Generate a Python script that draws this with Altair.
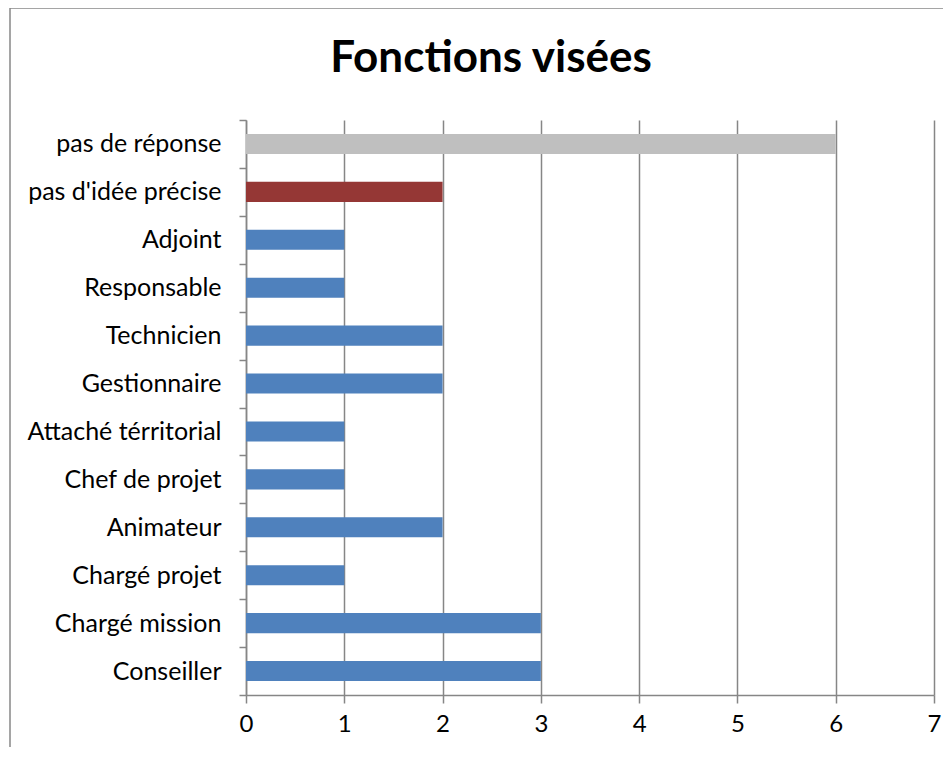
import altair as alt
import pandas as pd

categories = ["pas de réponse", "pas d'idée précise", "Adjoint", "Responsable", "Technicien",
              "Gestionnaire", "Attaché térritorial", "Chef de projet", "Animateur",
              "Chargé projet", "Chargé mission", "Conseiller"]
values = [6, 2, 1, 1, 2, 2, 1, 1, 2, 1, 3, 3]
colors = ["#BFBFBF", "#953735"] + ["#4F81BD"] * 10
x_ticks = [0, 1, 2, 3, 4, 5, 6, 7]
title_text = "Fonctions visées"

df = pd.DataFrame({"cat": categories, "val": values, "col": colors})

FONT = "Lato"
W, H = 688, 575

bars = alt.Chart(df).mark_bar(height=alt.RelativeBandSize(0.42)).encode(
    y=alt.Y("cat:N", sort=categories, title=None,
            scale=alt.Scale(paddingInner=0, paddingOuter=0),
            axis=alt.Axis(tickBand="extent", tickSize=7, labelPadding=18, labelFontSize=25,
                          labelColor="#000000", labelFont=FONT, domainColor="#868686",
                          tickColor="#868686", domainWidth=1.5, tickWidth=1.5, grid=False,
                          labelLimit=400)),
    x=alt.X("val:Q", title=None,
            scale=alt.Scale(domain=[0, 7], nice=False),
            axis=alt.Axis(values=x_ticks, tickSize=8, labelPadding=9, labelFontSize=24,
                          labelColor="#000000", labelFont=FONT, domainColor="#868686",
                          tickColor="#868686", domainWidth=1.5, tickWidth=1.5,
                          grid=True, gridColor="#868686", gridWidth=1.5,
                          labelFlush=False)),
    color=alt.Color("col:N", scale=None),
)

title = alt.Chart(pd.DataFrame({"t": [title_text]})).mark_text(
    font=FONT, fontSize=44, fontWeight="bold", color="#000000", baseline="alphabetic"
).encode(text="t:N", x=alt.value(245), y=alt.value(-48))

frame_top = alt.Chart(pd.DataFrame({"a": [0]})).mark_rule(color="#878787", strokeWidth=1.5).encode(
    x=alt.value(-236), x2=alt.value(W + 20), y=alt.value(-112))
frame_left = alt.Chart(pd.DataFrame({"a": [0]})).mark_rule(color="#878787", strokeWidth=1.5).encode(
    x=alt.value(-236), y=alt.value(-112), y2=alt.value(H + 60))

chart = alt.layer(bars, title, frame_top, frame_left).properties(
    width=W, height=H,
    autosize=alt.AutoSizeParams(type="none"),
    padding={"left": 238, "top": 112, "right": 9, "bottom": 52},
).configure_view(stroke=None)

chart.save("out.html", embed_options={"renderer": "svg", "actions": False})
